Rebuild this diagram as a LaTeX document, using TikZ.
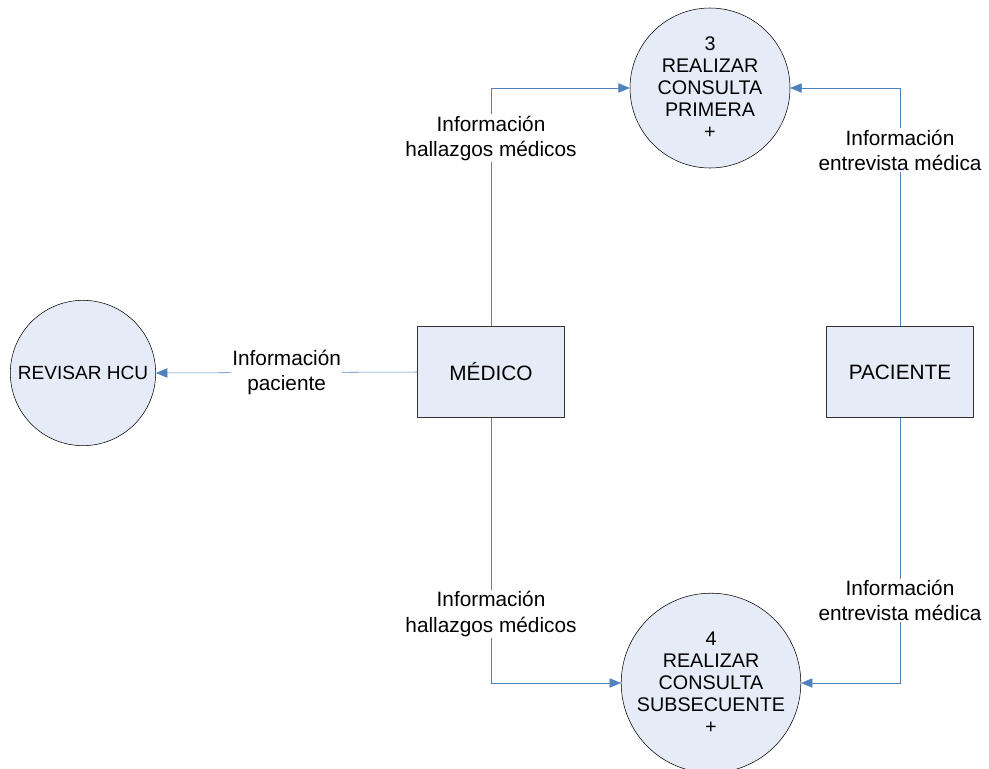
\documentclass[tikz,border=0pt]{standalone}
\usepackage{fontspec}
\setmainfont{Liberation Sans}
\usetikzlibrary{arrows.meta}
\definecolor{flujo}{RGB}{79,129,189}
\definecolor{relleno}{RGB}{230,236,247}

\begin{document}
\begin{tikzpicture}[x=0.75pt, y=-0.75pt,
	proceso/.style={circle, draw=black, fill=relleno, align=center, font=\fontsize{14.8}{16.5}\selectfont, inner sep=0pt},
	entidad/.style={rectangle, draw=black!80, fill=relleno, minimum width=110pt, minimum height=68pt, font=\fontsize{15.6}{18}\selectfont},
	flecha/.style={flujo, -{Triangle[length=8.5pt, width=7pt]}},
	etiqueta/.style={fill=white, text=black, align=center, inner sep=1pt, font=\fontsize{15.6}{18.8}\selectfont}]
\useasboundingbox (0,0) rectangle (989,768);

\node[proceso, minimum size=120pt] (c3) at (710,88) {3\\REALIZAR\\CONSULTA\\PRIMERA\\+};
\node[proceso, minimum size=130pt] (c4) at (711,683) {4\\REALIZAR\\CONSULTA\\SUBSECUENTE\\+};
\node[proceso, minimum size=109pt, font=\fontsize{14.3}{16}\selectfont] (hcu) at (83,373) {REVISAR HCU};
\node[entidad] (med) at (491,372) {MÉDICO};
\node[entidad] (pac) at (900,372) {PACIENTE};

\draw[flecha] (med.west) -- node[etiqueta] {Información\\paciente} (hcu.east);
\draw[flecha] (med.north) |- node[etiqueta, pos=.395] {Información\\hallazgos médicos} (c3.west);
\draw[flecha] (pac.north) |- node[etiqueta, pos=.37] {Información\\entrevista médica} (c3.east);
\draw[flecha] (med.south) |- node[etiqueta, pos=.37] {Información\\hallazgos médicos} (c4.west);
\draw[flecha] (pac.south) |- node[etiqueta, pos=.345] {Información\\entrevista médica} (c4.east);
\end{tikzpicture}
\end{document}
